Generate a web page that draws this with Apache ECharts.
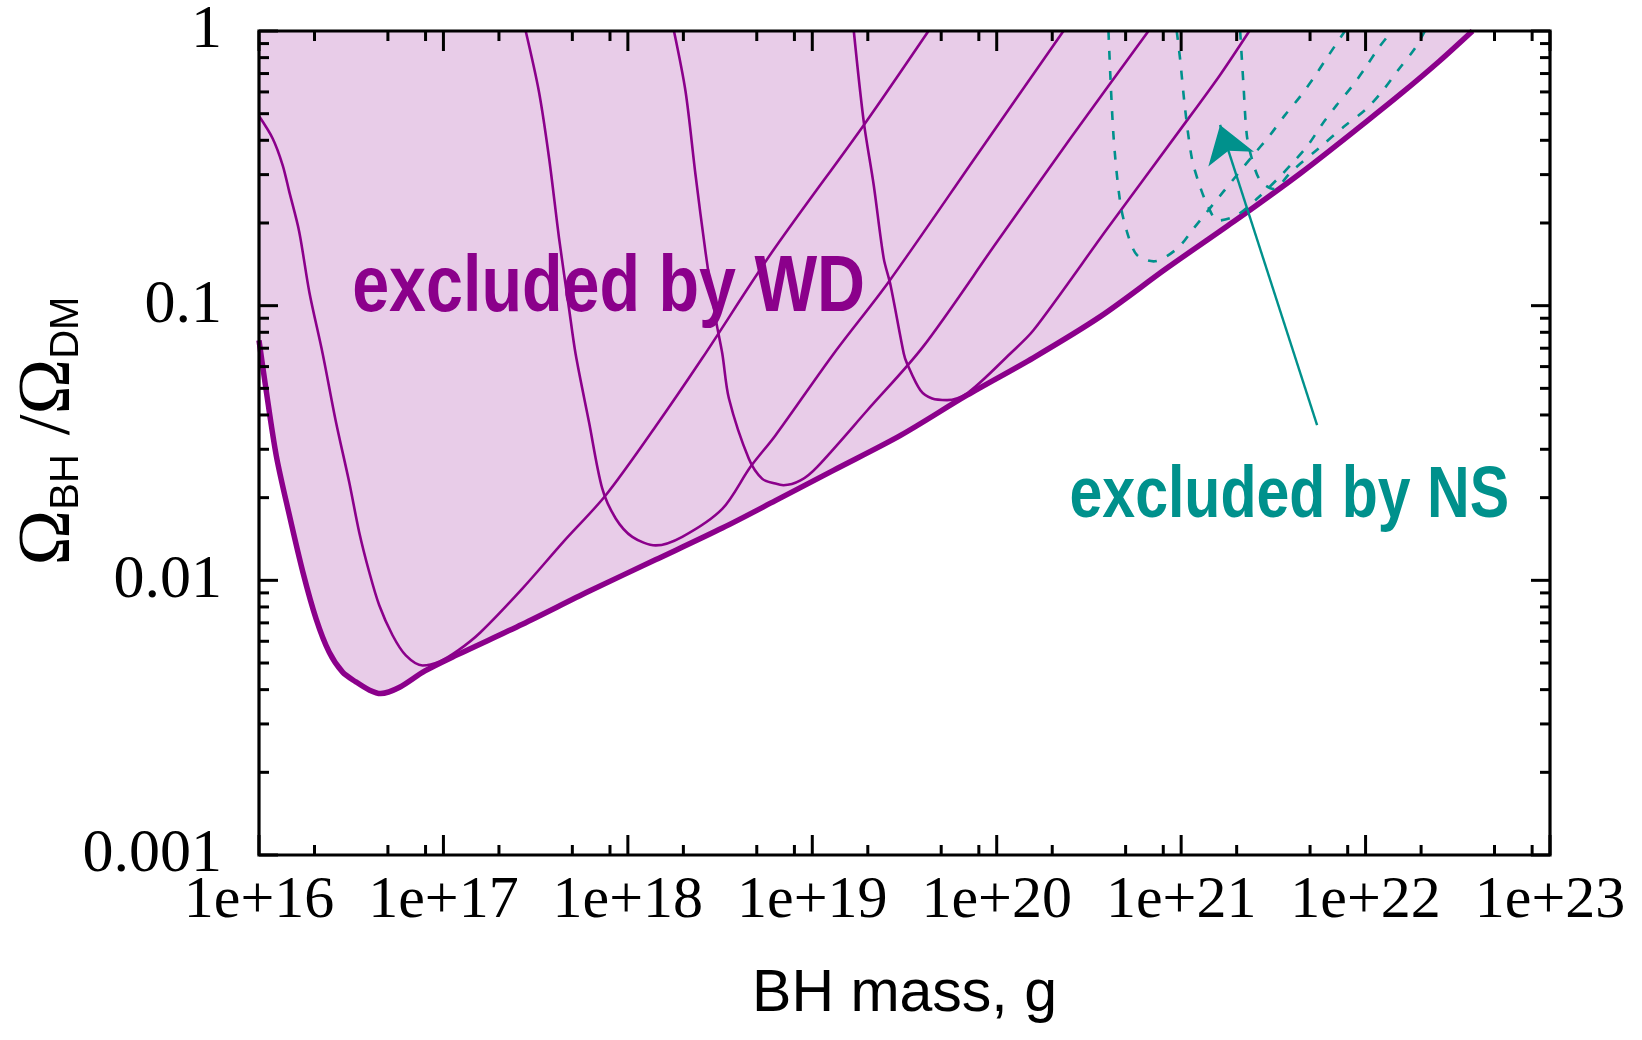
<!DOCTYPE html>
<html><head><meta charset="utf-8">
<script src="https://cdn.jsdelivr.net/npm/echarts@6/dist/echarts.min.js"></script>
<style>html,body{margin:0;padding:0;background:#fff}#c{width:1642px;height:1040px}</style>
</head><body><div id="c"></div>
<script>
// ---------- axis ticks ----------
const xTickValues = [1e16, 1e17, 1e18, 1e19, 1e20, 1e21, 1e22, 1e23];
const xTickLabels = ['1e+16', '1e+17', '1e+18', '1e+19', '1e+20', '1e+21', '1e+22', '1e+23'];
const xMinorTickValues = [2e16, 5e16, 8e16, 2e17, 5e17, 8e17, 2e18, 5e18, 8e18, 2e19, 5e19, 8e19,
  2e20, 5e20, 8e20, 2e21, 5e21, 8e21, 2e22, 5e22, 8e22];
const yTickValues = [0.001, 0.01, 0.1, 1];
const yTickLabels = ['0.001', '0.01', '0.1', '1'];
const yMinorTickValues = [0.002, 0.003, 0.004, 0.005, 0.006, 0.007, 0.008, 0.009,
  0.02, 0.03, 0.04, 0.05, 0.06, 0.07, 0.08, 0.09,
  0.2, 0.3, 0.4, 0.5, 0.6, 0.7, 0.8, 0.9];

// ---------- WD envelope (thick curve, bounds the shaded region) ----------
const envelopeMass = [1.0e16, 1.09e16, 1.24e16, 1.46e16, 1.73e16, 2.04e16, 2.40e16, 2.84e16, 3.35e16, 3.98e16,
  4.57e16, 5.75e16, 7.94e16, 1.17e17, 2.68e17, 6.15e17, 1.42e18, 3.25e18, 6.31e18, 1.31e19,
  3.01e19, 6.90e19, 1.58e20, 3.64e20, 8.38e20, 1.92e21, 4.42e21, 1.01e22, 1.58e22, 2.51e22, 3.80e22];
const envelopeOmega = [0.0748, 0.0499, 0.0285, 0.0173, 0.0107, 0.00724, 0.00548, 0.00463, 0.00427, 0.00398,
  0.00387, 0.00407, 0.00468, 0.00533, 0.00692, 0.00912, 0.0119, 0.0155, 0.0195, 0.0252,
  0.0337, 0.0472, 0.0646, 0.0912, 0.137, 0.202, 0.303, 0.468, 0.596, 0.776, 1.0];

// ---------- WD individual curves (thin) ----------
const wdAMass = [1.0e16, 1.186e16, 1.343e16, 1.459e16, 1.652e16, 1.875e16, 2.213e16, 2.612e16, 3.083e16, 3.491e16,
  3.963e16, 4.487e16, 5.297e16, 6.252e16, 7.709e16, 9.55e16, 1.202e17, 1.585e17, 2.679e17, 4.467e17,
  7.586e17, 1.413e18, 2.529e18, 6.067e18, 1.905e19, 4.266e19];
const wdAOmega = [0.490, 0.406, 0.325, 0.260, 0.186, 0.112, 0.0670, 0.0378, 0.0228, 0.0150,
  0.0107, 0.00811, 0.00631, 0.00533, 0.00490, 0.00507, 0.00556, 0.00646, 0.00933, 0.0138,
  0.0204, 0.0363, 0.0643, 0.157, 0.455, 1.0];

const wdBMass = [2.793e17, 3.296e17, 3.741e17, 4.236e17, 4.797e17, 5.212e17, 6.152e17, 7.261e17, 8.590e17, 1.057e18,
  1.416e18, 1.972e18, 3.251e18, 4.624e18, 6.310e18, 1.309e19, 2.594e19, 7.943e19, 2.301e20];
const wdBOmega = [1.0, 0.601, 0.344, 0.176, 0.0977, 0.0665, 0.0378, 0.0216, 0.0168, 0.0144,
  0.0134, 0.0144, 0.0182, 0.0259, 0.0337, 0.0670, 0.122, 0.359, 1.0];

const wdCMass = [1.778e18, 2.056e18, 2.328e18, 2.636e18, 2.992e18, 3.251e18, 3.532e18, 4.529e18, 5.358e18, 6.310e18,
  6.982e18, 8.630e18, 1.064e19, 1.995e19, 3.981e19, 1.0e20, 2.512e20, 6.653e20];
const wdCOmega = [1.0, 0.601, 0.299, 0.157, 0.0897, 0.0670, 0.0459, 0.0277, 0.0234, 0.0225,
  0.0222, 0.0231, 0.0259, 0.0417, 0.0708, 0.170, 0.407, 1.0];

const wdDMass = [1.679e19, 1.901e19, 2.153e19, 2.438e19, 2.655e19, 3.133e19, 3.266e19, 3.855e19, 4.467e19, 5.383e19,
  6.902e19, 1.186e20, 1.585e20, 3.981e20, 1.0e21, 1.626e21, 2.344e21];
const wdDOmega = [1.0, 0.468, 0.275, 0.149, 0.119, 0.0670, 0.0615, 0.0492, 0.0459, 0.0453,
  0.0479, 0.0670, 0.0815, 0.191, 0.442, 0.692, 1.0];

// ---------- NS curves (dashed) ----------
const ns1Mass = [4.036e20, 4.295e20, 4.667e20, 5.082e20, 5.754e20, 7.079e20, 9.484e20, 1.167e21, 1.694e21, 2.415e21,
  3.034e21, 3.656e21, 4.416e21, 5.212e21, 6.152e21, 7.727e21];
const ns1Omega = [1.0, 0.418, 0.239, 0.186, 0.153, 0.145, 0.161, 0.191, 0.260, 0.348,
  0.418, 0.494, 0.577, 0.673, 0.796, 1.0];

const ns2Mass = [9.462e20, 9.863e20, 1.050e21, 1.143e21, 1.242e21, 1.390e21, 1.585e21, 1.995e21, 2.630e21, 3.311e21,
  4.074e21, 4.887e21, 5.781e21, 6.966e21, 8.414e21, 9.931e21, 1.172e22, 1.390e22];
const ns2Omega = [1.0, 0.794, 0.522, 0.344, 0.282, 0.232, 0.204, 0.213, 0.248, 0.288,
  0.334, 0.385, 0.455, 0.537, 0.627, 0.731, 0.865, 1.0];

const ns3Mass = [2.089e21, 2.178e21, 2.270e21, 2.415e21, 2.679e21, 3.162e21, 3.981e21, 5.623e21, 7.586e21, 1.014e22,
  1.247e22, 1.503e22, 1.854e22, 2.099e22];
const ns3Omega = [1.0, 0.635, 0.418, 0.344, 0.286, 0.266, 0.309, 0.376, 0.447, 0.522,
  0.610, 0.721, 0.865, 1.0];

// ---------- annotations ----------
const nsArrowTail = [5.46e21, 0.0367];
const nsArrowTip = [1.626e21, 0.455];
const wdLabelText = 'excluded by WD';
const wdLabelAt = [3.20e16, 0.0946];   // left end of baseline
const nsLabelText = 'excluded by NS';
const nsLabelAt = [2.48e20, 0.01683];

const X_MIN = 1e16, X_MAX = 1e23, Y_MIN = 0.001, Y_MAX = 1;
const PURPLE = '#8B008B', FILL = '#E8CCE8', TEAL = '#00918C';
const SMOOTH = 0.3;

function pairs(a, b) { return a.map((v, i) => [v, b[i]]); }

function thin(data) {
  return { type: 'line', data: data, showSymbol: false, symbol: 'none', smooth: SMOOTH,
    lineStyle: { color: PURPLE, width: 2.6, join: 'round' }, z: 3, silent: true, animation: false };
}
function dashed(data) {
  return { type: 'line', data: data, showSymbol: false, symbol: 'none', smooth: SMOOTH,
    lineStyle: { color: TEAL, width: 2.6, type: [9, 11] }, z: 5, silent: true, animation: false };
}
function tickSeries(values, dir, len) {
  return {
    type: 'custom', silent: true, z: 20, clip: false, animation: false,
    data: values.map(v => dir === 'x' ? [v, Y_MIN] : [X_MIN, v]),
    renderItem: function (params, api) {
      const cs = params.coordSys;
      const st = { stroke: '#000', lineWidth: 3 };
      if (dir === 'x') {
        const x = api.coord([api.value(0), Y_MIN])[0];
        return { type: 'group', children: [
          { type: 'line', shape: { x1: x, y1: cs.y + cs.height, x2: x, y2: cs.y + cs.height - len }, style: st },
          { type: 'line', shape: { x1: x, y1: cs.y, x2: x, y2: cs.y + len }, style: st }
        ] };
      }
      const y = api.coord([X_MIN, api.value(1)])[1];
      return { type: 'group', children: [
        { type: 'line', shape: { x1: cs.x, y1: y, x2: cs.x + len, y2: y }, style: st },
        { type: 'line', shape: { x1: cs.x + cs.width, y1: y, x2: cs.x + cs.width - len, y2: y }, style: st }
      ] };
    }
  };
}
const frameSeries = {
  type: 'custom', silent: true, z: 21, clip: false, animation: false,
  data: [[X_MIN, Y_MIN]],
  renderItem: function (params) {
    const cs = params.coordSys;
    return { type: 'rect', shape: { x: cs.x, y: cs.y, width: cs.width, height: cs.height },
      style: { fill: null, stroke: '#000', lineWidth: 3.2 } };
  }
};

const chart = echarts.init(document.getElementById('c'), null, { renderer: 'canvas' });
const envelope = pairs(envelopeMass, envelopeOmega);

chart.setOption({
  animation: false,
  backgroundColor: '#fff',
  grid: { left: 259, right: 92, top: 31, bottom: 185, show: false, containLabel: false, outerBoundsMode: 'none' },
  xAxis: {
    type: 'log', logBase: 10, min: X_MIN, max: X_MAX, splitNumber: 7,
    axisLine: { show: false }, axisTick: { show: false }, splitLine: { show: false }, minorTick: { show: false },
    axisLabel: { margin: 16, color: '#000', fontFamily: 'Liberation Serif', fontSize: 60,
      formatter: v => xTickLabels[xTickValues.findIndex(t => Math.abs(Math.log10(t) - Math.log10(v)) < 1e-6)] || '' },
    name: 'BH mass, g', nameLocation: 'middle', nameGap: 110, nameMoveOverlap: false,
    nameTextStyle: { color: '#000', fontFamily: 'Liberation Sans', fontSize: 59 }
  },
  yAxis: {
    type: 'log', logBase: 10, min: Y_MIN, max: Y_MAX, splitNumber: 3,
    axisLine: { show: false }, axisTick: { show: false }, splitLine: { show: false }, minorTick: { show: false },
    axisLabel: { margin: 37, color: '#000', fontFamily: 'Liberation Serif', fontSize: 62,
      formatter: v => yTickLabels[yTickValues.findIndex(t => Math.abs(Math.log10(t) - Math.log10(v)) < 1e-6)] || '' },
    name: '{o|Ω}{s|BH}{o| /Ω}{s|DM}', nameLocation: 'middle', nameRotate: 90, nameGap: 172, nameMoveOverlap: false,
    nameTextStyle: { padding: [0, 0, 0, 24], rich: {
      o: { fontFamily: 'Liberation Serif', fontSize: 75, color: '#000', lineHeight: 75, verticalAlign: 'bottom' },
      s: { fontFamily: 'Liberation Sans', fontSize: 40, color: '#000', lineHeight: 46, verticalAlign: 'bottom' }
    } }
  },
  series: [
    { type: 'line', data: envelope, showSymbol: false, symbol: 'none', smooth: SMOOTH,
      lineStyle: { width: 0 }, areaStyle: { color: FILL, opacity: 1, origin: 'end' }, z: 1, silent: true },
    thin(pairs(wdAMass, wdAOmega)),
    thin(pairs(wdBMass, wdBOmega)),
    thin(pairs(wdCMass, wdCOmega)),
    thin(pairs(wdDMass, wdDOmega)),
    { type: 'line', data: envelope, showSymbol: false, symbol: 'none', smooth: SMOOTH,
      lineStyle: { color: PURPLE, width: 5.5, join: 'round' }, z: 4, silent: true },
    dashed(pairs(ns1Mass, ns1Omega)),
    dashed(pairs(ns2Mass, ns2Omega)),
    dashed(pairs(ns3Mass, ns3Omega)),
    { type: 'lines', coordinateSystem: 'cartesian2d', silent: true, z: 6,
      symbol: ['none', 'arrow'], symbolSize: [8, 36],
      lineStyle: { color: TEAL, width: 2.4, opacity: 1 },
      data: [{ coords: [nsArrowTail, nsArrowTip] }] },
    tickSeries(xTickValues, 'x', 20),
    tickSeries(xMinorTickValues, 'x', 10),
    tickSeries(yTickValues, 'y', 19),
    tickSeries(yMinorTickValues, 'y', 10),
    frameSeries
  ]
});

function placeLabels() {
  const w = chart.convertToPixel({ xAxisIndex: 0, yAxisIndex: 0 }, wdLabelAt);
  const n = chart.convertToPixel({ xAxisIndex: 0, yAxisIndex: 0 }, nsLabelAt);
  chart.setOption({ graphic: [
    { type: 'text', x: w[0], y: w[1] + 17, scaleX: 0.83, z: 30, silent: true,
      style: { text: wdLabelText, x: 0, y: 0, fill: PURPLE, fontFamily: 'Liberation Sans', fontWeight: 'bold',
        fontSize: 80, align: 'left', verticalAlign: 'bottom' } },
    { type: 'text', x: n[0], y: n[1] + 15, scaleX: 0.82, z: 30, silent: true,
      style: { text: nsLabelText, x: 0, y: 0, fill: TEAL, fontFamily: 'Liberation Sans', fontWeight: 'bold',
        fontSize: 72, align: 'left', verticalAlign: 'bottom' } }
  ] });
}
placeLabels();
</script>
</body></html>
